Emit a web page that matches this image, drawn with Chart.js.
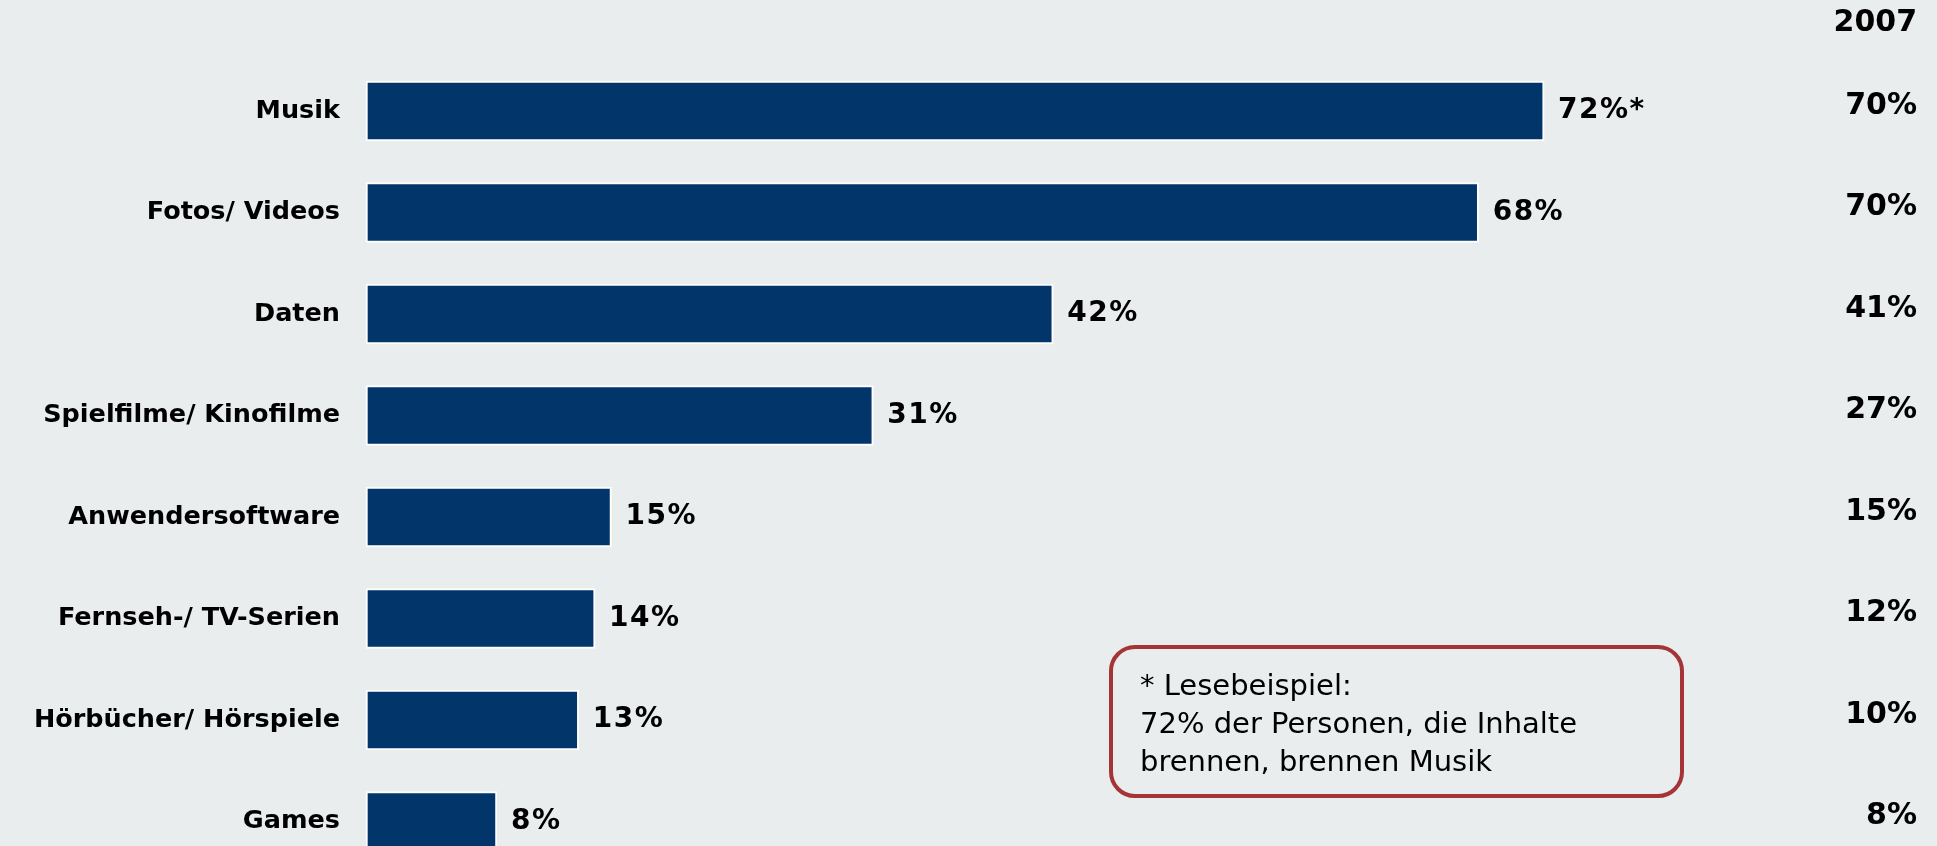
<!DOCTYPE html>
<html><head><meta charset="utf-8">
<script src="https://cdn.jsdelivr.net/npm/chart.js@4.4.0/dist/chart.umd.min.js"></script>
<style>
html,body{margin:0;padding:0;background:#E9EDEE;}
#wrap{position:relative;width:1937px;height:846px;overflow:hidden;background:#E9EDEE;}
#c{position:absolute;left:0;top:0;}
#note{position:absolute;left:1109px;top:645px;width:575px;height:153px;box-sizing:border-box;border:4px solid #A53437;border-radius:26px;padding:17px 0 0 27px;font-family:"DejaVu Sans";font-size:29px;line-height:38px;color:#000;white-space:nowrap;}
</style></head><body>
<div id="wrap"><canvas id="c"></canvas>
<div id="note">* Lesebeispiel:<br>72% der Personen, die Inhalte<br>brennen, brennen Musik</div></div>
<script>
const categories = ['Musik','Fotos/ Videos','Daten','Spielfilme/ Kinofilme','Anwendersoftware','Fernseh-/ TV-Serien','Hörbücher/ Hörspiele','Games'];
const values2009 = [72,68,42,31,15,14,13,8];
const values2007 = [70,70,41,27,15,12,10,8];
const labelMarks = ['*','','','','','','',''];
const compareHeader = '2007';

const labelPlugin = {
  id:'labelPlugin',
  afterDatasetsDraw(chart){
    const ctx = chart.ctx;
    const meta = chart.getDatasetMeta(0);
    const ys = chart.scales.y;
    ctx.save();
    ctx.fillStyle = '#000';
    ctx.textBaseline = 'middle';
    ctx.font = 'bold 28px "DejaVu Sans"';
    try { ctx.letterSpacing = '1.5px'; } catch(e) {}
    ctx.textAlign = 'left';
    meta.data.forEach((bar,i)=>{
      ctx.fillText(values2009[i] + '%' + labelMarks[i], bar.x + 14, bar.y);
    });
    try { ctx.letterSpacing = '0px'; } catch(e) {}
    ctx.font = 'bold 30px "DejaVu Sans"';
    ctx.textAlign = 'right';
    const xr = chart.width - 20;
    ctx.fillText(compareHeader, xr, 23);
    values2007.forEach((v,i)=>{
      ctx.fillText(v + '%', xr, ys.getPixelForValue(i) - 5);
    });
    ctx.restore();
  }
};

const canvas = document.getElementById('c');
canvas.width = 1937; canvas.height = 846;
canvas.style.width = '1937px'; canvas.style.height = '846px';

new Chart(canvas, {
  type:'bar',
  data:{
    labels: categories,
    datasets:[{
      data: values2009,
      backgroundColor:'#02366B',
      borderColor:'#FFFFFF',
      borderWidth:2,
      borderSkipped:false,
      barThickness:60,
      clip:false
    }]
  },
  options:{
    indexAxis:'y',
    responsive:false,
    animation:false,
    devicePixelRatio:1,
    layout:{padding:{top:111,bottom:24.5,left:0,right:262}},
    plugins:{legend:{display:false},tooltip:{enabled:false}},
    scales:{
      x:{min:0,max:80,display:false},
      y:{
        type:'category',
        offset:false,
        grid:{display:false,drawTicks:false},
        border:{display:false},
        ticks:{color:'#000',font:{family:'DejaVu Sans',weight:'bold',size:25.5},padding:26,autoSkip:false},
        afterFit(scale){ scale.width = 366; scale.paddingTop = 0; scale.paddingBottom = 0; }
      }
    }
  },
  plugins:[labelPlugin]
});
</script>
</body></html>
